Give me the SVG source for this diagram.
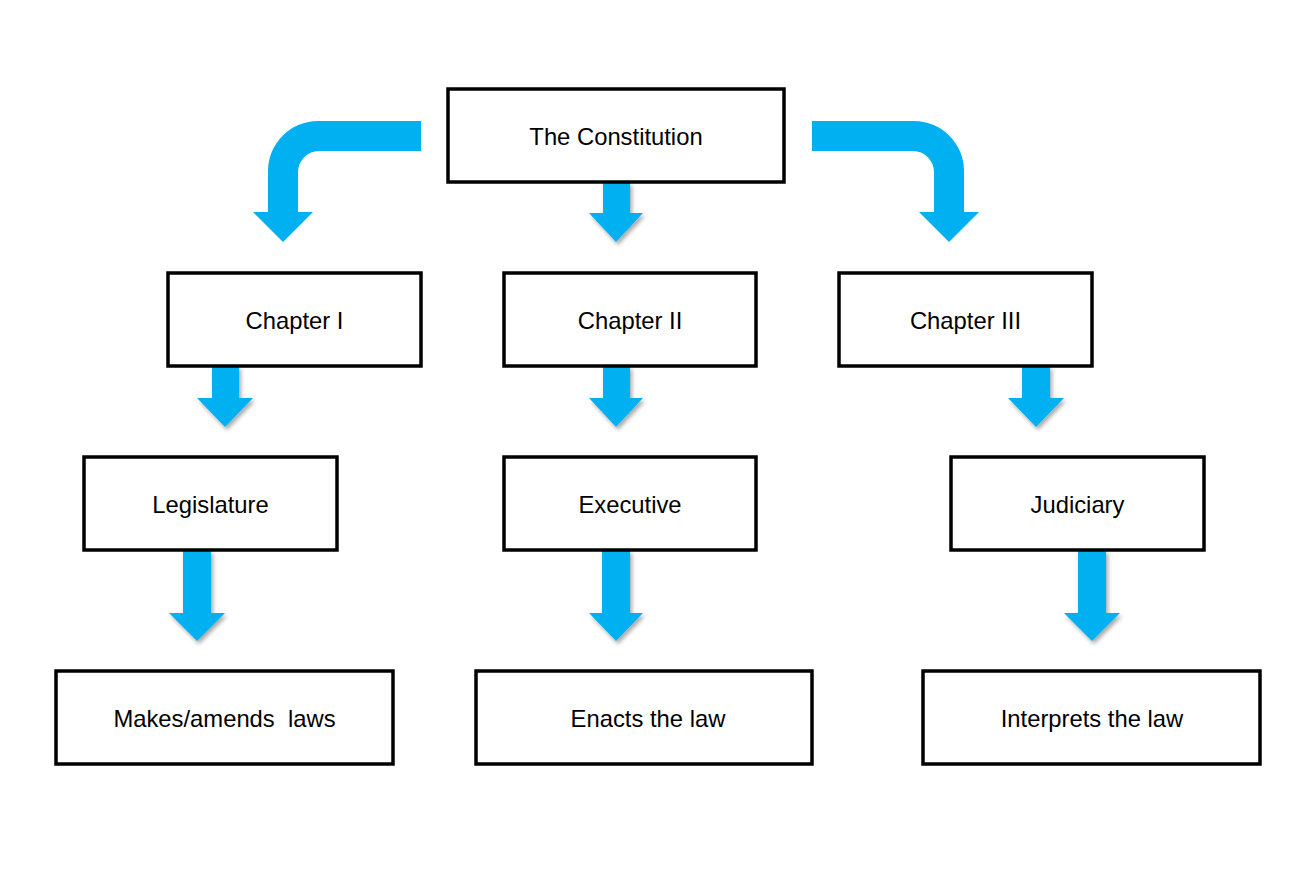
<svg xmlns="http://www.w3.org/2000/svg" width="1314" height="871" viewBox="0 0 1314 871">
<style>
.box{fill:#fff;stroke:#000;stroke-width:3.5}
.lbl{font-family:"Liberation Sans",Arial,sans-serif;font-size:23.8px;fill:#000;text-anchor:middle;white-space:pre}
.arr{fill:#00B0F0}
</style>
<defs>
<filter id="sh" x="-30%" y="-20%" width="160%" height="150%">
<feGaussianBlur in="SourceAlpha" stdDeviation="2"/>
<feOffset dx="1.5" dy="2.5" result="b"/>
<feComponentTransfer><feFuncA type="linear" slope="0.35"/></feComponentTransfer>
<feMerge><feMergeNode/><feMergeNode in="SourceGraphic"/></feMerge>
</filter>
</defs>
<rect width="1314" height="871" fill="#fff"/>
<g id="connectors">
<path class="arr" d="M421,121 L318,121 A50,50 0 0 0 268,171 L268,212 L253,212 L283,242 L313,212 L298,212 L298,172 A21,21 0 0 1 319,151 L421,151 Z"/>
<path class="arr" d="M812,121 L914,121 A50,50 0 0 1 964,171 L964,212 L979,212 L949,242 L919,212 L934,212 L934,172 A21,21 0 0 0 913,151 L812,151 Z"/>
<path class="arr" filter="url(#sh)" d="M603,182 L630,182 L630,213 L643,213 L616,242 L589,213 L603,213 Z"/>
<path class="arr" filter="url(#sh)" d="M212,366 L239,366 L239,398 L253,398 L225,427 L197,398 L212,398 Z"/>
<path class="arr" filter="url(#sh)" d="M603,366 L630,366 L630,398 L643,398 L616,427 L589,398 L603,398 Z"/>
<path class="arr" filter="url(#sh)" d="M1022,366 L1050,366 L1050,398 L1064,398 L1036,427 L1008,398 L1022,398 Z"/>
<path class="arr" filter="url(#sh)" d="M183,550 L211,550 L211,613 L225,613 L197,641 L169,613 L183,613 Z"/>
<path class="arr" filter="url(#sh)" d="M602,550 L630,550 L630,613 L643,613 L616,641 L589,613 L602,613 Z"/>
<path class="arr" filter="url(#sh)" d="M1078,550 L1106,550 L1106,613 L1120,613 L1092,641 L1064,613 L1078,613 Z"/>
</g>
<g id="constitution"><rect class="box" x="448" y="89" width="336" height="93"/><text class="lbl" x="616" y="145">The Constitution</text></g>
<g id="chapter1"><rect class="box" x="168" y="273" width="253" height="93"/><text class="lbl" x="294.5" y="329">Chapter I</text></g>
<g id="chapter2"><rect class="box" x="504" y="273" width="252" height="93"/><text class="lbl" x="630" y="329">Chapter II</text></g>
<g id="chapter3"><rect class="box" x="839" y="273" width="253" height="93"/><text class="lbl" x="965.5" y="329">Chapter III</text></g>
<g id="legislature"><rect class="box" x="84" y="457" width="253" height="93"/><text class="lbl" x="210.5" y="513">Legislature</text></g>
<g id="executive"><rect class="box" x="504" y="457" width="252" height="93"/><text class="lbl" x="630" y="513">Executive</text></g>
<g id="judiciary"><rect class="box" x="951" y="457" width="253" height="93"/><text class="lbl" x="1077.5" y="513">Judiciary</text></g>
<g id="makes"><rect class="box" x="56" y="671" width="337" height="93"/><text class="lbl" x="224.5" y="727" xml:space="preserve">Makes/amends  laws</text></g>
<g id="enacts"><rect class="box" x="476" y="671" width="336" height="93"/><text class="lbl" x="648" y="727">Enacts the law</text></g>
<g id="interprets"><rect class="box" x="923" y="671" width="337" height="93"/><text class="lbl" x="1092" y="727">Interprets the law</text></g>
</svg>
